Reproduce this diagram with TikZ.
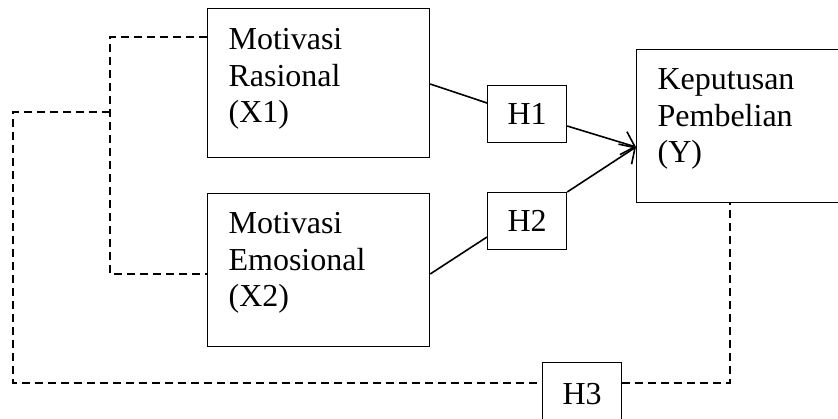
\documentclass[tikz,border=0pt]{standalone}
\usepackage{fontspec}
\setmainfont{Liberation Serif}
\usetikzlibrary{arrows.meta}
\begin{document}
\begin{tikzpicture}[x=1pt,y=-1pt,
  bigbox/.style={draw, line width=1.2pt, anchor=north west, minimum width=215pt, align=left,
     text width=180pt, inner xsep=21pt, inner ysep=0pt, minimum height=0pt,
     font=\fontsize{32}{36.5}\selectfont},
  hbox/.style={draw, line width=1.2pt, anchor=north west, minimum width=79pt, minimum height=57pt,
     inner sep=0pt, font=\fontsize{32}{37}\selectfont},
  link/.style={line width=1.6pt},
  dlink/.style={line width=1.4pt, dash pattern=on 8pt off 5pt},
  tip/.style={-{Straight Barb[length=12pt,width=24pt,line width=1.6pt]}}]
\useasboundingbox (0,0) rectangle (838,418);
\clip (0,0) rectangle (838,418);
\node[bigbox, text height=41pt, text depth=108pt] (x1) at (207,8) {Motivasi\\Rasional\\(X1)};
\node[bigbox, text height=40pt, text depth=113pt] (x2) at (207,193) {Motivasi\\Emosional\\(X2)};
\node[bigbox, text height=40pt, text depth=113pt] (y) at (636,49) {Keputusan\\Pembelian\\(Y)};
\node[hbox] (h1) at (487,85) {H1};
\node[hbox] (h2) at (487,192) {H2};
\node[hbox, minimum height=62pt] (h3) at (542,362) {H3};
\coordinate (tipY) at (636,147);
\coordinate (a) at (110,37);
\coordinate (b) at (110,274);
\coordinate (c) at (110,112);
\coordinate (d) at (13,112);
\coordinate (e) at (13,383);
\coordinate (f) at (730,383);
% solid connectors
\draw[link] (x1.east |- 0,84) -- (h1.west |- 0,103);
\draw[link] (x2.east |- 0,274) -- (h2.west |- 0,237);
\draw[link,tip] (h1.east |- 0,126) -- (tipY);
\draw[link,tip] (h2.north east) -- (tipY);
% dashed connectors
\draw[dlink] (x1.west |- a) -- (a) -- (b) -- (x2.west |- b);
\draw[dlink] (c) -- (d) -- (e) -- (h3.west |- e);
\draw[dlink] (h3.east |- f) -- (f) -- (y.south -| f);
\end{tikzpicture}
\end{document}
